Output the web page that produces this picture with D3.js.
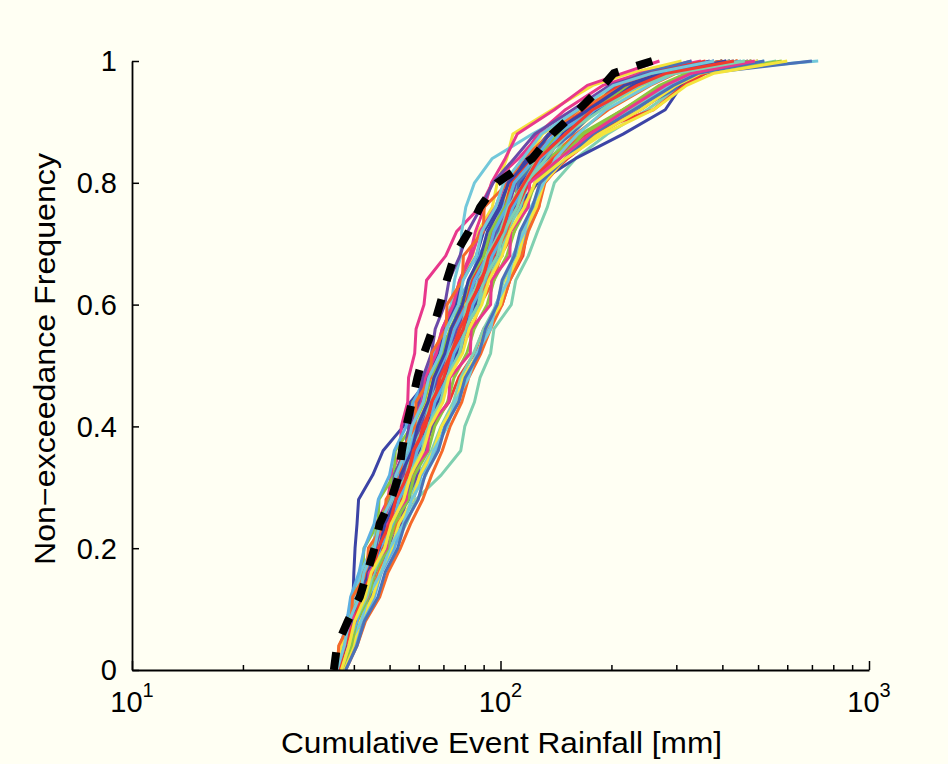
<!DOCTYPE html>
<html><head><meta charset="utf-8">
<script src="https://cdn.jsdelivr.net/npm/d3@7"></script>
<style>html,body{margin:0;padding:0;background:#fffff3}</style>
</head><body><svg id="chart" width="948" height="764"></svg>
<script>
// ---------- DATA ----------
const probLevels = [0,0.04,0.08,0.12,0.16,0.20,0.24,0.28,0.32,0.36,0.40,0.44,0.48,0.52,0.56,0.60,0.64,0.68,0.72,0.76,0.80,0.84,0.88,0.92,0.96,0.98,1.00];

const meanCurve = [35.3,36.0,38.5,41.5,43.5,45.5,47,50.5,53,54,55.5,57.5,59.5,62,65.5,68.5,71.5,75,82,88,98,122,138,163,190,203,258];

const s01 = [36.5,37.8,38.2,39.8,40,40.3,40.8,41.2,45,48,54.5,57,64.5,66,74.5,77,85,89,98,101,112,120,142,175,235,270,420];
const s02 = [36,37.2,38.3,41.5,42.5,45.5,46,49.5,50.5,53.5,53.8,56,56.3,58.5,59,62,63,71,76,88,95,112,128,165,200,250,330];
const s03 = [37,38.8,40.2,43.5,45.5,51,55.5,59,69,78,80,85,88,94,96,107,110,119,126,134,140,160,195,250,310,360,560];
const s04 = [37,39.3,40.7,43.5,45,48.5,50.5,54.5,57.5,62.5,65,72.5,77,85,90,101,106,115,118,127,130,152,185,240,300,345,470];
const s05 = [36,37.7,39.2,41.8,43.5,46.5,48,51.5,53,56.5,58,61.5,63.5,67.5,70,75.5,78,84,87,95,98,104,108,138,178,225,310];
const s06 = [36.5,38.7,40.2,43.4,45,48.5,50,53.5,54.5,58,59.5,63,64.5,68.5,70,73.5,75,78,78.5,80.5,85,95,122,160,215,290,728];
const s07 = [37,39.2,39.6,43.5,44,48.5,49,54.5,55,60.5,61,66.5,67,75.5,76,86.5,87,98.5,99,111,112,132,150,182,238,290,440];
const s08 = [36.5,38.2,41.3,43,46.5,48.5,52.5,54.5,58,60,64.5,67.5,72.5,76.5,83.5,88,96,100,109,114,126,136,160,196,255,300,440];
const s09 = [36,36.5,39.3,39.6,42.3,42.6,46.5,46.8,51.5,51.8,57.5,57.8,65.5,66,75.5,76,88,88.5,100,101,111,121,145,170,225,275,400];
const s10 = [37.5,40.3,42.2,45.5,47.5,51.5,54,58,61,67,70.5,77,80.5,87,92,100,105,113,118,126,131,150,175,225,285,330,470];
const s11 = [36.5,38.3,39.7,42.8,44.5,47.5,49.5,53.5,55.5,58.5,60.5,64.5,67.5,73.5,77,84.5,89,97,102,111,117,138,170,235,310,360,700];
const s12 = [37,38.2,40.3,41.2,43.8,45.5,49,50.5,54.5,56.5,60.5,63.5,68.5,72.5,79,83,91,96,105,111,126,160,215,280,310,340,480];
const s13 = [36.5,38.3,40.2,43.4,45,48.5,49.5,52.5,53.5,56.5,57.5,61,62.5,66.5,69.5,74.5,77.5,83.5,88,97,103,115,126,150,190,240,350];
const s14 = [37,39.8,41.7,44.3,45.8,48.8,51.5,56.5,60,65,69,74.5,78,84.5,90,97.5,102,110,115,123,128,138,152,185,230,280,400];
const s15 = [36.5,38,38.4,42,42.4,46.5,47,51.5,52,58,58.5,65.5,66,75.5,76,87,87.5,98,98.5,110,111,126,150,180,240,290,440];
const s16 = [37,38.8,39.8,42.3,43.7,46.3,47.7,51,52.5,56.5,58.5,63,65.5,70.5,73.5,79.5,83,90,94,102,106,118,130,165,210,265,400];
const s17 = [36,37.3,38.2,40.4,41.7,44.8,46.5,50.5,52.5,56.5,59,63.5,66.5,72,75.5,81.5,85,93,97,105,109,124,140,178,225,280,430];
const s18 = [37.5,39.2,41.8,43.7,47.4,49.6,53.5,55.5,59.5,61.5,65.5,68,72.5,75.5,81,84,91,95,103,107,116,124,148,172,225,270,400];
const s19 = [38,40.8,43,47,49.5,53.5,57,61.5,65,69.5,73,78.5,82,88.5,94,101,106,114,119,127,132,150,180,230,290,340,500];
const s20 = [36.5,38.3,39.2,41.4,42.7,45.4,47,50.5,52,55.5,57.5,62,64.5,69.5,73.5,79.5,84,92,97,107,113,135,165,215,285,345,580];
const s21 = [36,36.8,38.3,39.2,41.3,42.7,45.4,46.6,50,51.5,55.5,58,62.5,65.5,71.5,75,83,87,96,101,112,122,146,170,220,260,380];
const s22 = [37,39.3,39.7,43.8,44.2,49.4,49.8,56.5,57,62.5,63,69.5,70,78.5,79,88.5,89,101,101.5,114,115,134,148,176,205,245,330];
const s23 = [36.5,38.3,39.7,42.3,43.6,46.4,47.6,50.5,51.5,55,56.5,60.5,63,67.5,70.5,75.5,79,86,90,99,105,118,135,172,215,270,370];
const s24 = [37,38.7,41.3,42.7,45.8,47.6,51.5,53.5,57.5,59.5,63.5,65.5,70.5,73.5,80,83,91,95,104,109,120,128,152,178,235,275,420];
const s25 = [37,38.8,40.2,42.8,44.6,47.9,49.5,53.5,55.5,60,62.5,67.5,70.5,76.5,80,87.5,92,100,104,113,119,140,170,225,285,335,500];
const s26 = [36.5,38.3,39.7,42.3,43.7,46.8,48.5,52,53.5,57.5,59.5,63.5,66,71,74.5,80.5,84,91,95,103,107,121,136,170,210,255,360];
const s27 = [36.5,36.9,40.8,41.2,45.4,45.8,51,51.4,57,57.5,63.5,64,70.5,71,80,80.5,90,90.5,102,103,118,128,155,185,245,290,440];
const s28 = [37,38.8,39.7,42.3,44.2,47.4,49,52.5,54.5,58.5,61,65.5,68.5,74,77.5,83.5,87,95,99,108,114,138,172,230,290,340,520];
const s29 = [36.5,38.3,39.7,42.8,44.6,47.9,49.5,53,54.5,58.5,60.5,65,67.5,72.5,76,81.5,85,93,97,105,110,126,140,175,220,270,410];
const s30 = [37,38.7,41.8,43.7,46.9,48.6,52,53.5,57.5,59.5,64,66.5,71.5,75,81.5,85,92,96,104,109,120,138,170,215,275,325,480];
const s31 = [36,37.8,38.7,41.3,42.7,45.4,46.6,50,51.5,55.5,57.5,62,64.5,69.5,73,78.5,82,90,94,103,109,126,142,180,225,275,420];
const s32 = [36.5,38.3,39.7,42.3,43.7,46.4,48,51.5,53,57,59.5,64,66.5,71.5,75,81,85,92,96,104,109,124,140,182,232,282,430];
const s33 = [37.5,39.7,40.1,44.7,45.1,49.6,50,55.5,56,62,62.5,69.5,70,78,78.5,87,87.5,98,98.5,111,112,128,156,182,238,285,420];
const s34 = [37,39.3,40.7,43.8,45.6,48.9,50.5,54.5,56.5,60.5,63,67.5,70.5,76,79.5,85.5,89,97,101,109,114,131,148,185,228,278,400];
const s35 = [36.5,38.3,39.7,42.3,43.7,46.4,47.6,50.5,52,55.5,57,60.5,62.5,67,69.5,74.5,77.5,82.5,85.5,90.5,94.5,103,111,140,172,215,270];
const s36 = [37,38.2,40.3,41.7,44.3,46.1,49.5,51.5,55.5,57.5,62,64.5,69.5,72.5,78.5,81,88,92,100,105,116,126,152,178,240,285,420];
const s37 = [37,38.8,40.2,42.8,44.6,47.9,49.5,53.5,55.5,59.5,61.5,66,68.5,73.5,77.5,83.5,88,96,101,111,119,140,170,260,315,360,440];
const s38 = [37.5,39.8,41.6,45,47.2,50.6,53,57.8,60.4,65.8,69.2,75.8,79.2,87,91,100,104,112,116,125,131,150,185,240,300,350,500];
const s39 = [37,38.6,41.9,43.6,47.5,50,54.6,57.4,62.7,65.8,71.8,75.2,81.9,86.2,94,97,105,108,116,121,131,141,162,193,253,297,460];
const s40 = [36.5,38.3,39.3,41.8,43.2,45.9,47.1,50.5,51.6,55,56.5,60,61.5,65,66.5,70.6,72.5,77.6,81.5,88.6,95.5,109,124,157,198,253,380];
const s41 = [36,36.4,39.3,39.7,43.4,43.8,48.5,48.9,53.6,54,58.6,59,64.6,65,71.2,71.6,78.8,79.3,89.8,90.3,105,115,137,163,218,262,400];
const s42 = [37,39.4,40.7,43.9,45.6,49.5,51.5,56.2,58.4,63.7,66.3,71.8,74.8,81,84.8,92,96,104,109,118,124,145,168,215,270,320,480];
const s43 = [36.5,38.2,40.8,42.2,45.4,47.1,51,53,57.2,59.4,64.2,66.4,71.8,74.8,81,84.2,91,95,103,108,118,129,152,180,238,287,450];
const s44 = [38,40.8,42.7,46.5,48.6,52.6,55,59.8,62.4,67.8,70.8,77,80.2,87.5,91,98,101,109,113,122,128,150,178,230,295,345,520];
const s45 = [36.5,38.3,39.7,42.3,43.7,46.9,48.6,52,53.6,57.5,59.6,63.6,66,70.6,73.4,78.8,81.8,88.4,92.2,100,105,120,136,173,217,274,410];
const s46 = [37,38.7,39.1,43.6,44,49.1,49.5,55.5,56,63.4,63.9,72.4,72.9,82.8,83.3,94,94.5,106,106.5,119,120,145,175,220,280,330,490];
const s47 = [37,38.8,40.2,43.4,45.1,48.5,50.5,54.6,56.4,61.2,63.4,68.8,71.4,77.4,80.2,87,90,98,102,111,117,133,150,188,237,298,460];
const s48 = [36.5,37.8,40.3,41.7,44.9,46.6,50,52,56,58,62.6,65,70.2,73.3,79.3,82.3,89,93,101,106,116,127,150,178,235,282,430];
const s49 = [37,38.8,40.2,42.9,44.6,48.5,50.5,54.6,57,61.7,64.4,69.8,72.4,78.9,82.2,89,93,101,106,116,124,150,190,260,320,380,600];
const s50 = [36,37.7,38.8,41.4,42.6,45.5,47,50.6,52,55.6,57.5,61.7,63.9,68.8,71.3,76.9,79.2,86,89,97,102,115,129,162,203,258,380];

const seriesList = [s01,s02,s03,s04,s05,s06,s07,s08,s09,s10,s11,s12,s13,s14,s15,s16,s17,s18,s19,s20,
                    s21,s22,s23,s24,s25,s26,s27,s28,s29,s30,s31,s32,s33,s34,s35,s36,s37,s38,s39,s40,
                    s41,s42,s43,s44,s45,s46,s47,s48,s49,s50];

const xTickValues = [10,100,1000];
const xTickExponents = ["1","2","3"];
const xMinorTicks = [20,30,40,50,60,70,80,90,200,300,400,500,600,700,800,900];
const yTickValues = [0,0.2,0.4,0.6,0.8,1];
const yTickLabels = ["0","0.2","0.4","0.6","0.8","1"];
const xAxisTitle = "Cumulative Event Rainfall [mm]";
const yAxisTitle = "Non\u2212exceedance Frequency";

// ---------- STYLE ----------
const palette = ["#3c44a6","#e8388c","#80d0b0","#f23b2e","#f4e43c","#72c8da","#6b4aa8","#f5692a","#8dc640","#5cb0e2","#4a72b8"];
const FONT = "'Liberation Sans', Arial, Helvetica, sans-serif";

const svg = d3.select("#chart");
svg.append("rect").attr("width",948).attr("height",764).attr("fill","#fffff3");

const x = d3.scaleLog().domain([10,1000]).range([132,869]);
const y = d3.scaleLinear().domain([0,1]).range([670,61]);

const line = d3.line().x(d => x(d[0])).y(d => y(d[1]));

const g = svg.append("g");
seriesList.forEach((s,i) => {
  const pts = s.map((v,k) => [v, probLevels[k]]);
  g.append("path").attr("d", line(pts)).attr("fill","none")
    .attr("stroke", palette[i % palette.length]).attr("stroke-width",3)
    .attr("stroke-linejoin","round");
});
g.append("path").attr("d", line(meanCurve.map((v,k)=>[v, probLevels[k]])))
  .attr("fill","none").attr("stroke","#000").attr("stroke-width",8)
  .attr("stroke-dasharray","18,19").attr("stroke-linecap","butt");

// axes
const xAxis = d3.axisBottom(x).tickValues(xTickValues).tickSizeInner(-9).tickSizeOuter(0).tickFormat("");
const xAxisG = svg.append("g").attr("transform","translate(0,670)").call(xAxis);
const xMinor = d3.axisBottom(x).tickValues(xMinorTicks).tickSizeInner(-5).tickSizeOuter(0).tickFormat("");
const xMinorG = svg.append("g").attr("transform","translate(0,670)").call(xMinor);
xMinorG.select(".domain").remove();
const yAxis = d3.axisLeft(y).tickValues(yTickValues).tickSizeInner(-7).tickSizeOuter(0).tickFormat("");
const yAxisG = svg.append("g").attr("transform","translate(132,0)").call(yAxis);
[xAxisG,xMinorG,yAxisG].forEach(a => {
  a.selectAll(".domain").attr("stroke","#000").attr("stroke-width",1.8);
  a.selectAll(".tick line").attr("stroke","#000").attr("stroke-width",1.5);
});

// tick labels
yTickValues.forEach((v,i) => {
  svg.append("text").attr("x",117).attr("y",y(v)).attr("dy","0.36em")
    .attr("text-anchor","end").attr("font-family",FONT).attr("font-size",29)
    .attr("fill","#000").text(yTickLabels[i]);
});
xTickValues.forEach((v,i) => {
  const t = svg.append("text").attr("x",x(v)).attr("y",712)
    .attr("text-anchor","middle").attr("font-family",FONT).attr("font-size",29).attr("fill","#000");
  t.append("tspan").text("10");
  t.append("tspan").attr("dy",-15).attr("font-size",20).text(xTickExponents[i]);
});

// axis titles
svg.append("text").attr("x",501.5).attr("y",753).attr("text-anchor","middle")
  .attr("font-family",FONT).attr("font-size",29).attr("fill","#000")
  .attr("textLength",441).attr("lengthAdjust","spacingAndGlyphs").text(xAxisTitle);
svg.append("text").attr("transform","translate(55,359) rotate(-90)").attr("text-anchor","middle")
  .attr("font-family",FONT).attr("font-size",29).attr("fill","#000")
  .attr("textLength",412).attr("lengthAdjust","spacingAndGlyphs").text(yAxisTitle);
</script></body></html>
